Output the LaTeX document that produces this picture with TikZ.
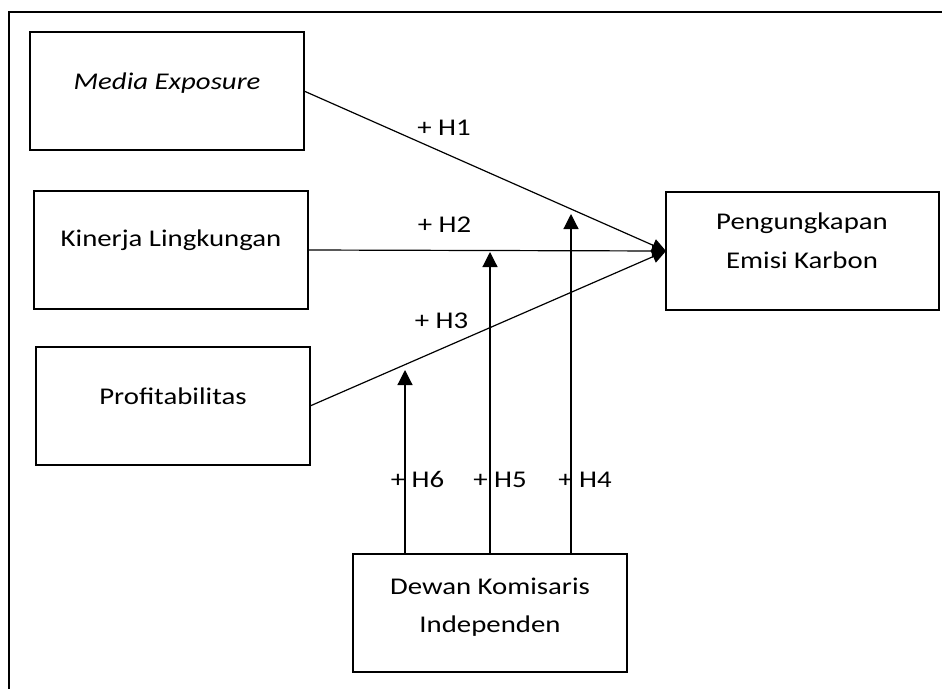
\documentclass[tikz,border=0pt]{standalone}
\usepackage{fontspec}
\setmainfont[FakeStretch=1.2]{Carlito}
\usetikzlibrary{arrows.meta}
\tikzset{
  box/.style={draw, line width=2pt, minimum width=274pt, minimum height=118pt, inner sep=0pt, outer sep=0pt},
  lbl/.style={inner sep=0pt, outer sep=0pt, anchor=base, font=\fontsize{24pt}{29pt}\selectfont},
  conn/.style={line width=1.2pt, -{Triangle[length=14pt,width=13pt]}},
  vconn/.style={line width=1.2pt, -{Triangle[length=15pt,width=15pt]}},
  frame/.style={line width=2.2pt}
}
\begin{document}
\begin{tikzpicture}[x=1pt,y=-1pt]
\useasboundingbox (0,0) rectangle (942,689);
% outer frame (top and left edges visible)
\draw[frame] (942,12) -| (9,689);

% boxes
\node[box] (me) at (167,91) {};
\node[box] (kl) at (171,250) {};
\node[box] (pr) at (173,406) {};
\node[box, minimum width=273pt] (pe) at (802.5,251) {};
\node[box] (dk) at (490,613) {};

% box texts
\node[lbl] (metxt) at (167,89) {\itshape Media Exposure};
\node[lbl] (kltxt) at (171,246) {Kinerja Lingkungan};
\node[lbl] (prtxt) at (173,404) {Profitabilitas};
\node[lbl] (petxta) at (802,229) {Pengungkapan};
\node[lbl] (petxtb) at (802,268) {Emisi Karbon};
\node[lbl] (dktxta) at (490,594) {Dewan Komisaris};
\node[lbl] (dktxtb) at (490,632) {Independen};

% direct effects
\draw[conn] (me.east) -- (pe.west);
\draw[conn] (kl.east) -- (pe.west);
\draw[conn] (pr.east) -- (pe.west);

% moderation arrows
\coordinate (h6end) at (405,370);
\coordinate (h5end) at (490,252);
\coordinate (h4end) at (571,214);
\draw[vconn] (dk.north -| h6end) -- (h6end);
\draw[vconn] (dk.north -| h5end) -- (h5end);
\draw[vconn] (dk.north -| h4end) -- (h4end);

% hypothesis labels
\node[lbl] (h1) at (444,135) {+ H1};
\node[lbl] (h2) at (444.5,232) {+ H2};
\node[lbl] (h3) at (441.5,328) {+ H3};
\node[lbl] (h6) at (417.5,487) {+ H6};
\node[lbl] (h5) at (500,487) {+ H5};
\node[lbl] (h4) at (585,487) {+ H4};
\end{tikzpicture}
\end{document}
